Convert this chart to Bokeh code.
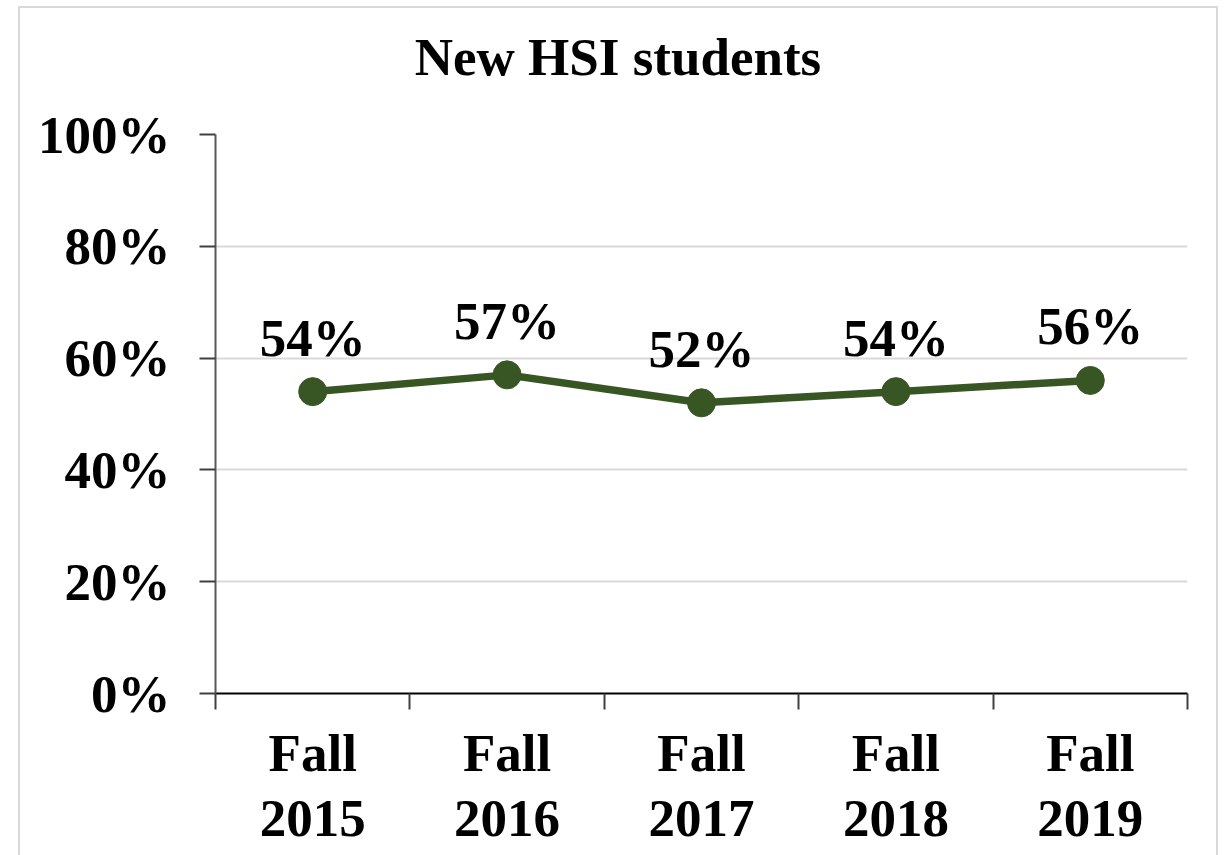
from bokeh.plotting import figure
from bokeh.layouts import column
from bokeh.models import ColumnDataSource, FixedTicker, NumeralTickFormatter, Range1d, LabelSet, Div
from bokeh.embed import file_html
from bokeh.resources import INLINE

# Data
title_text = "New HSI students"
categories = ["Fall 2015", "Fall 2016", "Fall 2017", "Fall 2018", "Fall 2019"]
tick_labels = ["Fall\n2015", "Fall\n2016", "Fall\n2017", "Fall\n2018", "Fall\n2019"]
values = [0.54, 0.57, 0.52, 0.54, 0.56]
value_labels = ["54%", "57%", "52%", "54%", "56%"]
y_ticks = [0, 0.2, 0.4, 0.6, 0.8, 1.0]

FONT = "Liberation Serif"
FS = "53px"
GREEN = "#375623"

n = len(categories)
xpos = [i + 0.5 for i in range(n)]
src = ColumnDataSource(dict(x=xpos, y=values, lab=value_labels, cat=categories))

TITLE_H = 90
title = Div(text=('<div style="font-family:\'Liberation Serif\';font-size:53px;font-weight:bold;'
                  'line-height:53px;text-align:center;color:black;margin:0;padding-top:23px;'
                  'width:1196px;">' + title_text + '</div>'),
            width=1196, height=TITLE_H, margin=0)

p = figure(width=1196, height=847 - TITLE_H, output_backend="svg", toolbar_location=None,
           title_location=None,
           x_range=Range1d(0, n), y_range=Range1d(0, 1),
           min_border_left=195, min_border_right=29, min_border_top=126 - TITLE_H,
           min_border_bottom=162, margin=0)
p.outline_line_color = None

# grid
p.xgrid.grid_line_color = None
p.ygrid.grid_line_color = "#d9d9d9"
p.ygrid.grid_line_width = 2
p.ygrid.ticker = FixedTicker(ticks=y_ticks)

# y axis
p.yaxis.ticker = FixedTicker(ticks=y_ticks)
p.yaxis.formatter = NumeralTickFormatter(format="0%")
p.yaxis.axis_line_color = "#595959"
p.yaxis.axis_line_width = 2
p.yaxis.major_tick_line_color = "#404040"
p.yaxis.major_tick_line_width = 2
p.yaxis.major_tick_in = 0
p.yaxis.major_tick_out = 16
p.yaxis.minor_tick_line_color = None
p.yaxis.major_label_standoff = 29
p.yaxis.major_label_text_font = FONT
p.yaxis.major_label_text_font_size = FS
p.yaxis.major_label_text_font_style = "bold"
p.yaxis.major_label_text_color = "black"

# x axis
p.xaxis.ticker = FixedTicker(ticks=xpos, minor_ticks=list(range(n + 1)))
p.xaxis.major_label_overrides = {x: t for x, t in zip(xpos, tick_labels)}
p.xaxis.axis_line_color = "black"
p.xaxis.axis_line_width = 2
p.xaxis.major_tick_line_color = None
p.xaxis.major_tick_out = 16
p.xaxis.major_tick_in = 0
p.xaxis.minor_tick_line_color = "#404040"
p.xaxis.minor_tick_line_width = 2
p.xaxis.minor_tick_in = 0
p.xaxis.minor_tick_out = 16
p.xaxis.major_label_standoff = 14
p.xaxis.major_label_text_font = FONT
p.xaxis.major_label_text_font_size = FS
p.xaxis.major_label_text_font_style = "bold"
p.xaxis.major_label_text_color = "black"
p.xaxis.major_label_text_line_height = 1.13

p.line("x", "y", source=src, line_color=GREEN, line_width=7.5)
p.scatter("x", "y", source=src, size=28, fill_color=GREEN, line_color=GREEN)

labels = LabelSet(x="x", y="y", text="lab", source=src, y_offset=36,
                  text_align="center", text_baseline="alphabetic",
                  text_font=FONT, text_font_size=FS, text_font_style="bold",
                  text_color="black")
p.add_layout(labels)

layout = column(title, p, spacing=0, margin=(6, 0, 0, 18),
                styles={"border": "2px solid #d9d9d9", "background": "white"})

open("out.html", "w").write(file_html(layout, INLINE))
